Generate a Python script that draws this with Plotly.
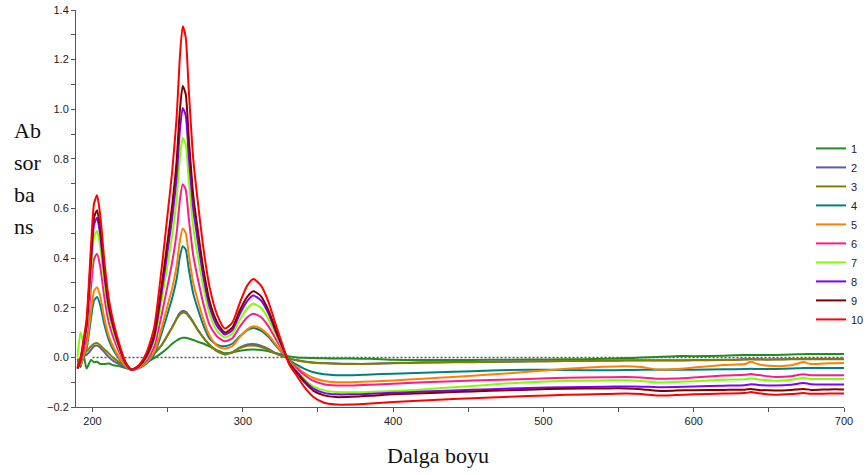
import plotly.graph_objects as go

# wavelength grid (nm)
wl = [190, 192, 194, 196, 199, 201, 203, 205, 208, 211, 214, 218, 222, 226,
      231, 236, 241, 246, 250, 253, 256, 258, 260, 262,
      264, 267, 270, 274, 278, 283, 288, 293, 298, 303, 307,
      312, 317, 322, 327, 331, 336, 341, 347, 354, 362,
      372, 385, 400, 420, 440, 465, 490, 515, 540, 555, 565, 576, 588, 600,
      620, 634, 638, 643, 654, 665, 673, 678, 690, 700]

s1 = [-0.005, -0.04, 0.01, -0.045, -0.01, -0.02, -0.018, -0.026, -0.027, -0.025, -0.032, -0.036, -0.043, -0.048,
      -0.04, -0.02, -0.003, 0.018, 0.038, 0.055, 0.068, 0.075, 0.079, 0.079,
      0.076, 0.07, 0.063, 0.055, 0.043, 0.028, 0.017, 0.02, 0.027, 0.031, 0.032,
      0.03, 0.025, 0.017, 0.009, 0.004, 0.0, -0.002, -0.003, -0.004, -0.005,
      -0.005, -0.006, -0.01, -0.011, -0.011, -0.01, -0.009, -0.008, -0.006, -0.003, -0.001, 0.002, 0.005, 0.005,
      0.007, 0.01, 0.01, 0.01, 0.01, 0.012, 0.013, 0.014, 0.014, 0.014]

s2 = [-0.03, -0.01, 0.005, 0.01, 0.03, 0.045, 0.048, 0.04, 0.02, 0.0, -0.015, -0.028, -0.04, -0.05,
      -0.037, -0.012, 0.014, 0.05, 0.09, 0.122, 0.158, 0.178, 0.187, 0.184,
      0.17, 0.143, 0.112, 0.078, 0.05, 0.024, 0.012, 0.02, 0.04, 0.052, 0.054,
      0.047, 0.034, 0.017, 0.004, -0.005, -0.012, -0.017, -0.021, -0.023, -0.025,
      -0.026, -0.026, -0.023, -0.02, -0.019, -0.018, -0.016, -0.015, -0.013, -0.012, -0.012, -0.012, -0.012, -0.011,
      -0.01, -0.008, -0.007, -0.008, -0.008, -0.007, -0.006, -0.006, -0.006, -0.006]

s3 = [-0.02, 0.0, 0.03, 0.025, 0.045, 0.055, 0.058, 0.05, 0.032, 0.015, -0.003, -0.02, -0.037, -0.048,
      -0.035, -0.01, 0.015, 0.05, 0.09, 0.12, 0.155, 0.172, 0.18, 0.178,
      0.165, 0.14, 0.11, 0.078, 0.05, 0.025, 0.013, 0.02, 0.037, 0.047, 0.048,
      0.042, 0.03, 0.015, 0.003, -0.005, -0.012, -0.018, -0.022, -0.024, -0.026,
      -0.027, -0.026, -0.024, -0.022, -0.02, -0.019, -0.017, -0.015, -0.014, -0.013, -0.013, -0.013, -0.013, -0.012,
      -0.011, -0.009, -0.008, -0.009, -0.009, -0.008, -0.008, -0.008, -0.008, -0.008]

s4 = [-0.03, -0.031, 0.0, 0.033, 0.158, 0.229, 0.243, 0.213, 0.129, 0.067, 0.029, -0.008, -0.037, -0.05,
      -0.043, -0.025, 0.011, 0.098, 0.177, 0.239, 0.318, 0.401, 0.448, 0.434,
      0.358, 0.257, 0.196, 0.125, 0.075, 0.05, 0.045, 0.055, 0.085, 0.11, 0.118,
      0.108, 0.083, 0.047, 0.012, -0.012, -0.03, -0.046, -0.06, -0.068, -0.072,
      -0.072, -0.069, -0.066, -0.062, -0.058, -0.053, -0.05, -0.051, -0.052, -0.051, -0.05, -0.05, -0.05, -0.05,
      -0.048, -0.047, -0.046, -0.047, -0.047, -0.045, -0.043, -0.043, -0.043, -0.043]

s5 = [-0.03, -0.029, 0.007, 0.045, 0.187, 0.268, 0.283, 0.249, 0.154, 0.083, 0.04, -0.003, -0.036, -0.05,
      -0.042, -0.021, 0.02, 0.119, 0.21, 0.28, 0.37, 0.465, 0.519, 0.502,
      0.416, 0.3, 0.23, 0.148, 0.086, 0.046, 0.035, 0.045, 0.082, 0.113, 0.125,
      0.116, 0.09, 0.052, 0.015, -0.015, -0.04, -0.063, -0.083, -0.095, -0.1,
      -0.1, -0.097, -0.093, -0.086, -0.079, -0.069, -0.058, -0.046, -0.038, -0.036, -0.039, -0.049, -0.047, -0.041,
      -0.031, -0.027, -0.018, -0.028, -0.035, -0.032, -0.019, -0.027, -0.024, -0.023]

s6 = [-0.04, -0.02, 0.03, 0.083, 0.283, 0.396, 0.418, 0.37, 0.236, 0.136, 0.077, 0.017, -0.03, -0.05,
      -0.039, -0.012, 0.042, 0.172, 0.291, 0.384, 0.503, 0.628, 0.698, 0.676,
      0.562, 0.411, 0.319, 0.21, 0.129, 0.083, 0.065, 0.077, 0.124, 0.162, 0.176,
      0.163, 0.126, 0.073, 0.022, -0.017, -0.045, -0.071, -0.095, -0.108, -0.113,
      -0.113, -0.11, -0.106, -0.1, -0.096, -0.091, -0.087, -0.082, -0.08, -0.079, -0.081, -0.086, -0.085, -0.081,
      -0.073, -0.07, -0.067, -0.071, -0.079, -0.076, -0.068, -0.072, -0.072, -0.072]

s7 = [0.0, 0.1, 0.06, 0.109, 0.349, 0.484, 0.51, 0.452, 0.293, 0.173, 0.101, 0.03, -0.026, -0.05,
      -0.036, -0.003, 0.065, 0.228, 0.377, 0.492, 0.64, 0.796, 0.884, 0.857,
      0.715, 0.525, 0.41, 0.275, 0.173, 0.105, 0.08, 0.095, 0.152, 0.198, 0.216,
      0.2, 0.155, 0.09, 0.028, -0.021, -0.054, -0.088, -0.117, -0.133, -0.14,
      -0.141, -0.139, -0.136, -0.129, -0.12, -0.11, -0.1, -0.095, -0.093, -0.092, -0.095, -0.101, -0.099, -0.096,
      -0.09, -0.088, -0.084, -0.089, -0.094, -0.09, -0.083, -0.087, -0.087, -0.087]

s8 = [-0.045, -0.011, 0.055, 0.124, 0.386, 0.534, 0.563, 0.499, 0.325, 0.194, 0.116, 0.037, -0.024, -0.05,
      -0.035, 0.004, 0.08, 0.264, 0.432, 0.562, 0.73, 0.906, 1.005, 0.975,
      0.814, 0.6, 0.47, 0.317, 0.202, 0.125, 0.092, 0.11, 0.175, 0.228, 0.249,
      0.23, 0.178, 0.103, 0.032, -0.024, -0.059, -0.094, -0.126, -0.143, -0.149,
      -0.149, -0.147, -0.143, -0.138, -0.133, -0.128, -0.123, -0.12, -0.118, -0.117, -0.118, -0.12, -0.119, -0.117,
      -0.114, -0.112, -0.108, -0.111, -0.113, -0.11, -0.103, -0.108, -0.109, -0.109]

s9 = [-0.045, -0.009, 0.06, 0.133, 0.408, 0.563, 0.593, 0.526, 0.343, 0.206, 0.124, 0.042, -0.023, -0.05,
      -0.033, 0.008, 0.091, 0.29, 0.472, 0.613, 0.796, 0.986, 1.094, 1.061,
      0.887, 0.655, 0.514, 0.348, 0.224, 0.14, 0.1, 0.12, 0.19, 0.245, 0.267,
      0.247, 0.19, 0.11, 0.034, -0.025, -0.063, -0.1, -0.135, -0.153, -0.16,
      -0.159, -0.155, -0.149, -0.145, -0.14, -0.135, -0.13, -0.126, -0.125, -0.125, -0.128, -0.135, -0.134, -0.132,
      -0.131, -0.13, -0.127, -0.131, -0.133, -0.131, -0.127, -0.131, -0.129, -0.129]

s10 = [-0.04, -0.005, 0.07, 0.15, 0.45, 0.62, 0.653, 0.58, 0.38, 0.23, 0.14, 0.05, -0.02, -0.05,
       -0.03, 0.02, 0.12, 0.36, 0.58, 0.75, 0.97, 1.2, 1.335, 1.29,
       1.08, 0.8, 0.63, 0.43, 0.28, 0.17, 0.116, 0.14, 0.22, 0.29, 0.316,
       0.29, 0.225, 0.13, 0.04, -0.03, -0.075, -0.12, -0.16, -0.183, -0.19,
       -0.19, -0.186, -0.18, -0.174, -0.168, -0.162, -0.156, -0.151, -0.148, -0.146, -0.148, -0.154, -0.152, -0.149,
       -0.146, -0.144, -0.14, -0.145, -0.151, -0.148, -0.144, -0.147, -0.146, -0.146]

series = [s1, s2, s3, s4, s5, s6, s7, s8, s9, s10]
names = ["1", "2", "3", "4", "5", "6", "7", "8", "9", "10"]
colors = ["#228b22", "#5c5cab", "#808000", "#008080", "#ff8000",
          "#ff1a8c", "#80ff00", "#8000ff", "#800000", "#ff0000"]

# dotted baseline
base_x = [200, 700]
base_y = [0, 0]

ylabel_lines = ["Ab", "sor", "ba", "ns"]
xlabel = "Dalga boyu"

fig = go.Figure()
fig.add_trace(go.Scatter(x=base_x, y=base_y, mode="lines", showlegend=False,
                         line=dict(color="#555555", width=1.5, dash="2px,2px")))
for y, n, c in zip(series, names, colors):
    fig.add_trace(go.Scatter(x=wl, y=y, name=n, mode="lines",
                             line=dict(color=c, width=2, shape="spline", smoothing=0.6)))

ann = []
for i, t in enumerate(ylabel_lines):
    ann.append(dict(text=t, xref="paper", yref="paper", x=-0.083, y=0.697 - i * 0.0805,
                    xanchor="left", yanchor="middle", showarrow=False,
                    font=dict(family="Liberation Serif", size=22, color="#111")))
ann.append(dict(text=xlabel, xref="paper", yref="paper", x=0.471, y=-0.122,
                xanchor="center", yanchor="middle", showarrow=False,
                font=dict(family="Liberation Serif", size=22, color="#111")))

axis_style = dict(showline=True, linecolor="#555", linewidth=1, showgrid=False, zeroline=False,
                  ticks="outside", ticklen=4, tickcolor="#555", automargin=False,
                  tickfont=dict(family="Liberation Sans", size=11, color="#222"))

fig.update_layout(
    width=867, height=475,
    margin=dict(l=76, r=23, t=10, b=68, autoexpand=False),
    paper_bgcolor="white", plot_bgcolor="white",
    annotations=ann,
    xaxis=dict(range=[189, 700], dtick=100, tick0=200,
               minor=dict(dtick=50, ticks="outside", ticklen=4, tickcolor="#555"), **axis_style),
    yaxis=dict(range=[-0.2, 1.4], dtick=0.2, tickformat=".1f",
               minor=dict(dtick=0.1, ticks="outside", ticklen=4, tickcolor="#555"), **axis_style),
    legend=dict(x=0.957, y=0.436, xanchor="left", yanchor="middle", bgcolor="rgba(0,0,0,0)",
                font=dict(family="Liberation Sans", size=11, color="#222")),
    showlegend=True,
)

# drop the default page margin so the figure sits at the window's top-left corner
fig.write_html("out.html", config={"displayModeBar": False},
               post_script="document.body.style.margin='0px';")
